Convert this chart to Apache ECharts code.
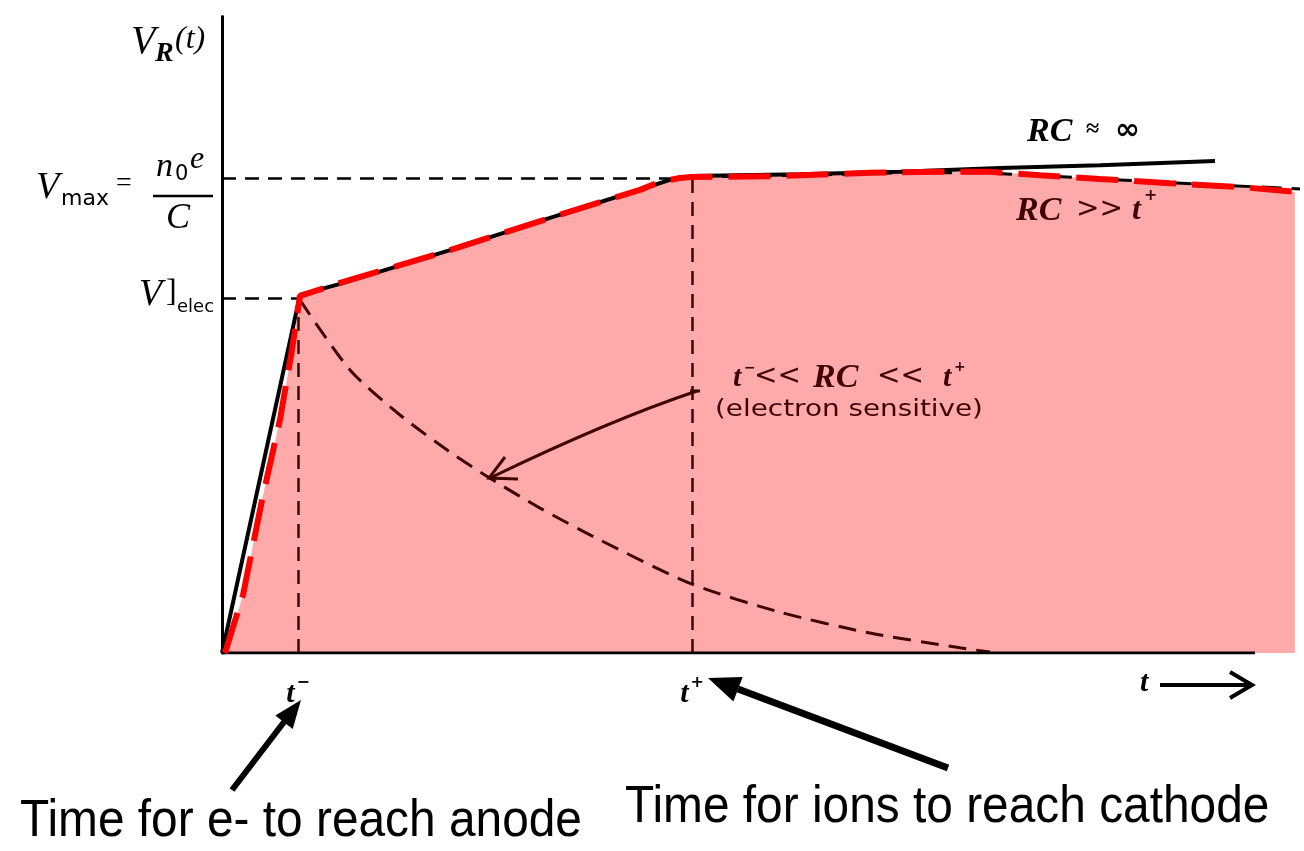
<!DOCTYPE html>
<html>
<head>
<meta charset="utf-8">
<script src="https://cdn.jsdelivr.net/npm/echarts@6/dist/echarts.min.js"></script>
<style>html,body{margin:0;padding:0;background:#fff;}#c{width:1304px;height:851px;}</style>
</head>
<body>
<div id="c"></div>
<script>
// time in arbitrary units (t- = 7.6, t+ = 47); voltage normalised so Vmax = 1
var tMinus = 7.6;
var tPlus = 47;
var vMax = 1.0;
var vElec = 0.747;
var tickValues = [7.6, 47];
var tickLabels = ['t−', 't+'];

// RC = infinity (solid black)
var rcInf = [[0,0],[7.8,0.754],[11.8,0.777],[22.8,0.848],[32.8,0.916],[42.3,0.979],[44.8,0.996],[47,1.004],[57.8,1.008],[67.8,1.013],[77.8,1.021],[87.8,1.027],[99.3,1.036]];
// RC >> t+ (black dashed, original print)
var rcLargeBlack = [[47,1.002],[57.8,1.006],[67.8,1.011],[75.8,1.011],[82.8,1.004],[89.8,0.996],[97.8,0.987],[107.8,0.977]];
// RC >> t+ (red dashed overlay, filled)
var rcLarge = [[0.3,0],[2.1,0.122],[4.0,0.322],[5.8,0.491],[7.0,0.638],[7.8,0.752],[11.8,0.779],[22.8,0.848],[32.8,0.916],[41.8,0.975],[43.8,0.992],[45.8,1.0],[47,1.002],[55.8,1.004],[64.8,1.011],[71.8,1.013],[76.8,1.013],[81.8,1.006],[87.8,0.998],[94.8,0.989],[101.8,0.981],[107.3,0.971]];
// t- << RC << t+ (electron sensitive)
var rcMid = [[7.8,0.743],[12.8,0.596],[17.8,0.501],[22.8,0.423],[26.8,0.368],[31.8,0.305],[37.8,0.238],[47,0.145],[55.8,0.086],[64.8,0.042],[73.8,0.011],[76.8,0.002]];
var baseline = [[0,0],[103.3,0]];

var serif = '"Liberation Serif","DejaVu Serif",serif';
var sans = '"DejaVu Sans","Liberation Sans",sans-serif';
var arial = '"Liberation Sans",Arial,sans-serif';
var maroon = '#3f0404';

var chart = echarts.init(document.getElementById('c'), null, {renderer: 'canvas'});

function txt(x, y, text, font, opts) {
  return {type: 'text', x: x, y: y, z: 50, style: Object.assign({text: text, font: font, fill: '#000', align: 'left', verticalAlign: 'middle'}, opts || {})};
}

var option = {
  animation: false,
  backgroundColor: '#fff',
  grid: {left: 222, right: 2, top: 16.5, bottom: 198, containLabel: false},
  xAxis: {
    type: 'value', min: 0, max: 108,
    axisLine: {show: false}, splitLine: {show: false}, axisTick: {show: false},
    axisLabel: {
      customValues: tickValues,
      margin: 22,
      formatter: function (v) {
        var i = tickValues.indexOf(v);
        if (i < 0) return '';
        var s = tickLabels[i];
        return '{t|t}{s|' + s.slice(1) + '}';
      },
      rich: {
        t: {fontFamily: serif, fontStyle: 'italic', fontWeight: 'bold', fontSize: 30, color: '#000', verticalAlign: 'bottom', lineHeight: 34},
        s: {fontFamily: sans, fontWeight: 'bold', fontSize: 16, color: '#000', verticalAlign: 'top', lineHeight: 34, padding: [0, 0, 14, 2]}
      }
    }
  },
  yAxis: {
    type: 'value', min: 0, max: 1.34,
    axisLine: {show: true, lineStyle: {color: '#000', width: 3}},
    splitLine: {show: false}, axisTick: {show: false}, axisLabel: {show: false}
  },
  series: [
    {name: 'fill', type: 'line', data: rcLarge, symbol: 'none', z: 1,
     lineStyle: {width: 0, opacity: 0}, areaStyle: {color: '#ffaaaa', opacity: 1}},
    {name: 'refs', type: 'line', data: [], symbol: 'none', z: 2,
     markLine: {
       silent: true, symbol: 'none', label: {show: false},
       data: [
         [{coord: [0, vMax], lineStyle: {color: '#000'}}, {coord: [tPlus, vMax]}],
         [{coord: [0, vElec], lineStyle: {color: '#000'}}, {coord: [tMinus, vElec]}],
         [{coord: [tMinus, 0], lineStyle: {color: maroon}}, {coord: [tMinus, vElec]}],
         [{coord: [tPlus, 0], lineStyle: {color: maroon}}, {coord: [tPlus, vMax]}]
       ],
       lineStyle: {type: [14, 9], width: 2.5}
     }},
    {name: 'electron sensitive', type: 'line', data: rcMid, symbol: 'none', smooth: 0.25, z: 3,
     lineStyle: {color: maroon, width: 3, type: [18, 10]}},
    {name: 'baseline', type: 'line', data: baseline, symbol: 'none', z: 3,
     lineStyle: {color: '#000', width: 3}},
    {name: 'RC >> t+ print', type: 'line', data: rcLargeBlack, symbol: 'none', z: 4,
     lineStyle: {color: '#000', width: 3, type: [20, 10]}},
    {name: 'RC = inf', type: 'line', data: rcInf, symbol: 'none', z: 5,
     lineStyle: {color: '#000', width: 4}},
    {name: 'RC >> t+', type: 'line', data: rcLarge, symbol: 'none', z: 6,
     lineStyle: {color: '#ff0000', width: 6, type: [42, 16]}}
  ],
  graphic: [
    // y axis title V_R(t)
    txt(131, 42, 'V', 'italic 40px ' + serif),
    txt(155, 54, 'R', 'italic bold 28px ' + serif),
    txt(175, 40, '(t)', 'italic 32px ' + serif),
    // Vmax = n0 e / C
    txt(36, 188, 'V', 'italic 38px ' + serif),
    txt(61, 199, 'max', '22px ' + sans),
    txt(116, 184, '=', '28px ' + serif),
    txt(156, 167, 'n', 'italic 34px ' + serif),
    txt(175, 175, '0', '21px ' + sans),
    txt(190, 160, 'e', 'italic 32px ' + serif),
    {type: 'line', z: 50, shape: {x1: 153, y1: 196, x2: 213, y2: 196}, style: {stroke: '#000', lineWidth: 2.5}},
    txt(166, 219, 'C', 'italic 36px ' + serif),
    // V]elec
    txt(139, 295, 'V', 'italic 38px ' + serif),
    txt(166, 293, ']', '32px ' + serif),
    txt(177, 307, 'elec', '18px ' + sans),
    // curve labels
    txt(1027, 132, 'RC', 'italic bold 34px ' + serif),
    txt(1086, 130, '≈', 'bold 24px ' + serif),
    txt(1115, 131, '∞', 'bold 30px ' + sans),
    txt(1016, 211, 'RC', 'italic bold 34px ' + serif, {fill: maroon}),
    txt(1076, 210, '>>', '28px ' + sans, {fill: maroon}),
    txt(1132, 211, 't', 'italic bold 32px ' + serif, {fill: maroon}),
    txt(1144, 196, '+', 'bold 16px ' + sans, {fill: maroon}),
    txt(733, 378, 't', 'italic bold 30px ' + serif, {fill: maroon}),
    txt(744, 368, '−', 'bold 14px ' + sans, {fill: maroon}),
    txt(754, 377, '<<', '28px ' + sans, {fill: maroon}),
    txt(813, 378, 'RC', 'italic bold 34px ' + serif, {fill: maroon}),
    txt(877, 377, '<<', '28px ' + sans, {fill: maroon}),
    txt(943, 378, 't', 'italic bold 30px ' + serif, {fill: maroon}),
    txt(954, 367, '+', 'bold 14px ' + sans, {fill: maroon}),
    {type: 'text', x: 715, y: 410, z: 50, scaleX: 1.21, style: {text: '(electron sensitive)', font: '23px ' + sans, fill: maroon, align: 'left', verticalAlign: 'middle'}},
    // curved arrow
    {type: 'bezierCurve', z: 50, shape: {x1: 697, y1: 391, cpx1: 610, cpy1: 420, x2: 490, y2: 478}, style: {stroke: maroon, lineWidth: 3, fill: null}},
    {type: 'line', z: 50, shape: {x1: 690, y1: 391, x2: 700, y2: 391}, style: {stroke: maroon, lineWidth: 3}},
    {type: 'polyline', z: 50, shape: {points: [[505, 457], [489, 478], [518, 479]]}, style: {stroke: maroon, lineWidth: 3, fill: null}},
    // t arrow at the end of the time axis
    txt(1140, 683, 't', 'italic bold 30px ' + serif),
    {type: 'line', z: 50, shape: {x1: 1160, y1: 685, x2: 1250, y2: 685}, style: {stroke: '#000', lineWidth: 4}},
    {type: 'polyline', z: 50, shape: {points: [[1230, 672], [1252, 685], [1230, 698]]}, style: {stroke: '#000', lineWidth: 4, fill: null}},
    // explanation arrows
    {type: 'line', z: 50, shape: {x1: 232, y1: 790, x2: 284, y2: 722}, style: {stroke: '#000', lineWidth: 6}},
    {type: 'polygon', z: 50, shape: {points: [[301, 700], [292.7, 728.9], [275.3, 715.5]]}, style: {fill: '#000'}},
    {type: 'line', z: 50, shape: {x1: 948, y1: 768, x2: 738, y2: 689}, style: {stroke: '#000', lineWidth: 7}},
    {type: 'polygon', z: 50, shape: {points: [[708, 678], [742.6, 677], [733.4, 701.4]]}, style: {fill: '#000'}},
    {type: 'text', x: 20, y: 822, z: 50, scaleX: 0.92, style: {text: 'Time for e- to reach anode', font: '52px ' + arial, fill: '#000', align: 'left', verticalAlign: 'middle'}},
    {type: 'text', x: 625, y: 808, z: 50, scaleX: 0.92, style: {text: 'Time for ions to reach cathode', font: '52px ' + arial, fill: '#000', align: 'left', verticalAlign: 'middle'}}
  ]
};
chart.setOption(option);
</script>
</body>
</html>
